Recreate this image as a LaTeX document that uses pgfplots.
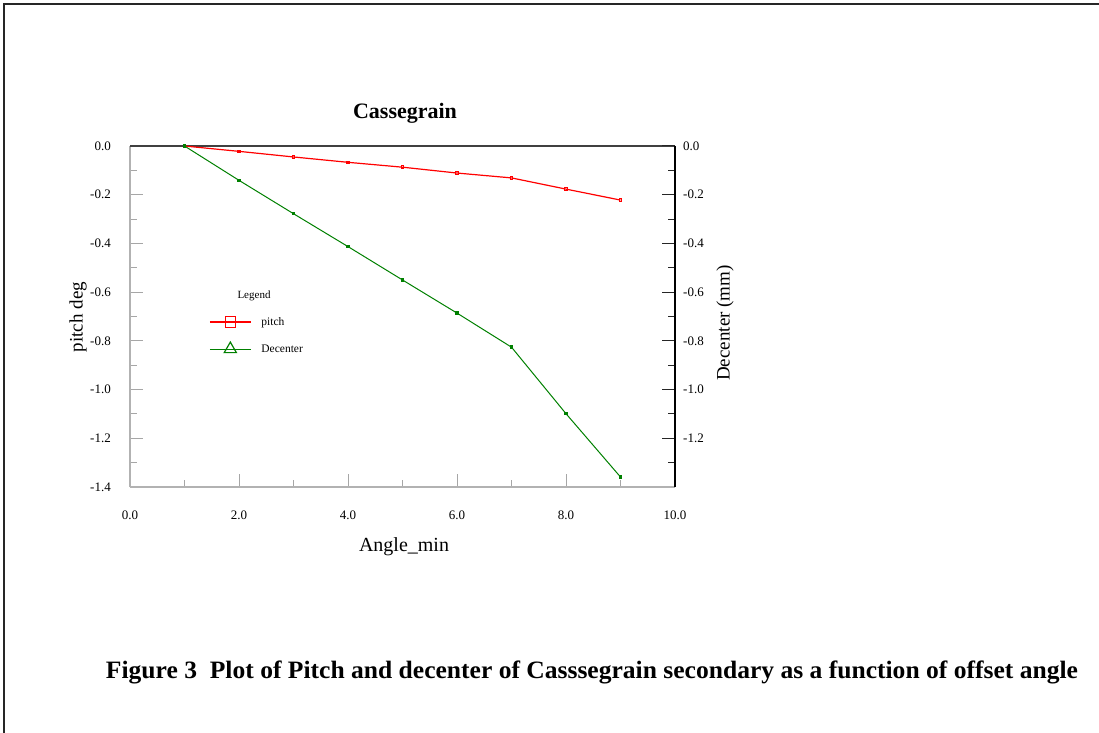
\documentclass[border=0pt]{standalone}
\usepackage{fontspec}
\setmainfont{Liberation Serif}
\usepackage{graphicx}
\usepackage{pgfplots}
\pgfplotsset{compat=1.18}
\definecolor{dgreen}{RGB}{0,128,0}
\begin{document}
\begin{tikzpicture}[x=1pt,y=1pt]
\useasboundingbox (0,0) rectangle (1099,732);
\draw[line width=2pt, black!85] (3.5,-5) -- (3.5,727.5) -- (1110,727.5);

\begin{axis}[
  at={(130pt,245pt)}, anchor=south west, scale only axis,
  width=545pt, height=341pt,
  xmin=0, xmax=10, ymin=-1.4, ymax=0,
  axis line style={draw=none},
  clip=false,
  tick align=inside, xtick pos=lower, ytick pos=left,
  xtick={0,2,4,6,8,10}, minor xtick={1,3,5,7,9},
  xticklabels={0.0,2.0,4.0,6.0,8.0,10.0},
  ytick={-1.4,-1.2,-1.0,-0.8,-0.6,-0.4,-0.2,0},
  yticklabels={-1.4,-1.2,-1.0,-0.8,-0.6,-0.4,-0.2,0.0},
  minor ytick={-1.3,-1.1,-0.9,-0.7,-0.5,-0.3,-0.1},
  major tick length=13pt, minor tick length=7pt,
  tick style={gray!70, line width=1pt},
  ticklabel style={font=\fontsize{13}{15}\selectfont},
  xticklabel style={inner sep=0pt, anchor=north, yshift=-24pt},
  yticklabel style={inner sep=0pt, anchor=east, xshift=-19pt},
  legend style={at={(0.145,0.5)}, anchor=north west, draw=none, fill=none,
    inner sep=0pt, row sep=15pt, font=\fontsize{11.5}{13}\selectfont,
    nodes={inner sep=0pt},
    /tikz/every odd column/.style={column sep=10pt}},
  legend cell align=left,
  legend image code/.code={\draw[mark repeat=2,mark phase=2,#1] plot coordinates {(0pt,0pt) (20.5pt,0pt) (41pt,0pt)};},
]
\draw[gray!60, line width=1.2pt] (rel axis cs:0,0) -- (rel axis cs:1,0);
\draw[gray!60, line width=1.2pt] (rel axis cs:0,0) -- (rel axis cs:0,1);
\draw[black!75, line width=1.3pt] (rel axis cs:0,1) -- (rel axis cs:1,1);
\addplot[red, line width=1.2pt, mark=square, mark size=1.3pt,
  mark options={line width=0.8pt}, forget plot] coordinates {
  (1,0) (2,-0.022) (3,-0.045) (4,-0.067) (5,-0.087)
  (6,-0.111) (7,-0.131) (8,-0.177) (9,-0.222)};
\addlegendimage{red, line width=1.2pt, mark=square, mark size=5.2pt, mark options={fill=white}}
\addlegendentry{pitch}
\addlegendimage{dgreen, line width=1.2pt, mark=triangle, mark size=7pt, mark options={fill=white}}
\addlegendentry{Decenter}
\end{axis}

\begin{axis}[
  at={(130pt,245pt)}, anchor=south west, scale only axis,
  width=545pt, height=341pt,
  xmin=0, xmax=10, ymin=-1.4, ymax=0,
  axis line style={draw=none},
  clip=false,
  xtick=\empty,
  tick align=inside, ytick pos=right,
  ytick={-1.2,-1.0,-0.8,-0.6,-0.4,-0.2,0},
  yticklabels={-1.2,-1.0,-0.8,-0.6,-0.4,-0.2,0.0},
  minor ytick={-1.3,-1.1,-0.9,-0.7,-0.5,-0.3,-0.1},
  major tick length=13pt, minor tick length=7pt,
  tick style={black!85, line width=1pt},
  ticklabel style={font=\fontsize{13}{15}\selectfont},
  yticklabel style={inner sep=0pt, anchor=west, xshift=8pt},
]
\draw[black, line width=1.3pt] (rel axis cs:1,0) -- (rel axis cs:1,1);
\addplot[dgreen, line width=1pt, mark=square*, mark size=1.2pt] coordinates {
  (1,0) (2,-0.141) (3,-0.278) (4,-0.413) (5,-0.55)
  (6,-0.686) (7,-0.826) (8,-1.099) (9,-1.359)};
\end{axis}

\node[font=\bfseries\fontsize{22}{26}\selectfont] at (405,619) {Cassegrain};
\node[font=\fontsize{20}{24}\selectfont] at (404,185) {Angle\_min};
\node[font=\fontsize{19}{23}\selectfont, rotate=90] at (78,415) {pitch deg};
\node[font=\fontsize{19}{23}\selectfont, rotate=90] at (725,409) {Decenter (mm)};
\node[font=\fontsize{11}{13}\selectfont] at (254,436) {Legend};
\node at (592,60) {\resizebox{972pt}{\height}{\bfseries\fontsize{25}{29}\selectfont Figure 3\ \ Plot of Pitch and decenter of Casssegrain secondary as a function of offset angle}};
\end{tikzpicture}
\end{document}
